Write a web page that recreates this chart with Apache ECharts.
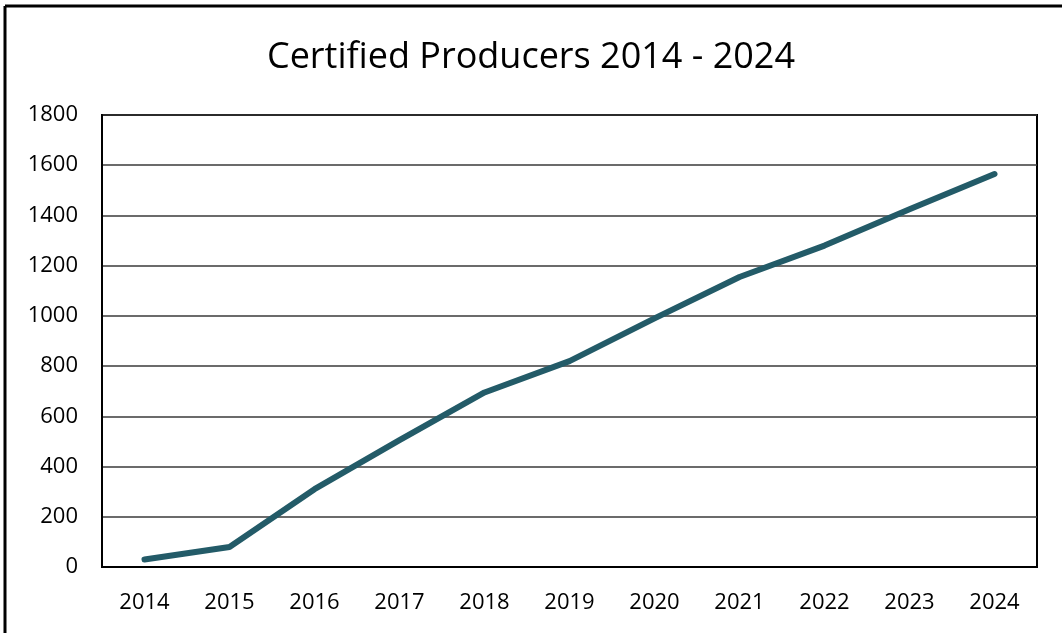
<!DOCTYPE html>
<html>
<head>
<meta charset="utf-8">
<title>Certified Producers 2014 - 2024</title>
<script src="https://cdn.jsdelivr.net/npm/echarts@6/dist/echarts.min.js"></script>
<style>
  html, body { margin: 0; padding: 0; background: #fff; }
  #chart { width: 1062px; height: 633px; }
</style>
</head>
<body>
<div id="chart"></div>
<script>
// Yearly count of certified producers
const years = ['2014', '2015', '2016', '2017', '2018', '2019', '2020', '2021', '2022', '2023', '2024'];
const producers = [30, 80, 310, 505, 695, 820, 990, 1155, 1280, 1425, 1565];
const yTicks = { min: 0, max: 1800, interval: 200 };

const chart = echarts.init(document.getElementById('chart'), null, { renderer: 'canvas' });
const font = '"Open Sans", "Liberation Sans", sans-serif';

chart.setOption({
  backgroundColor: '#fff',
  animation: false,
  title: {
    text: 'Certified Producers 2014 - 2024',
    left: 'center',
    top: 35,
    textStyle: { fontFamily: font, fontSize: 36, fontWeight: 'normal', color: '#000' }
  },
  graphic: [
    // frame along the top and left edges of the page
    { type: 'line', shape: { x1: 5, y1: 6, x2: 1062, y2: 6 }, style: { stroke: '#000', lineWidth: 3 } },
    { type: 'line', shape: { x1: 5, y1: 6, x2: 5, y2: 633 }, style: { stroke: '#000', lineWidth: 3 } }
  ],
  grid: {
    left: 102, right: 25, top: 115, bottom: 66,
    show: true, borderColor: '#000', borderWidth: 2, backgroundColor: 'transparent'
  },
  xAxis: {
    type: 'category',
    data: years,
    boundaryGap: true,
    axisLine: { show: true, lineStyle: { color: '#000', width: 2 } },
    axisTick: { show: false },
    axisLabel: { fontFamily: font, fontSize: 22, color: '#000', margin: 25 }
  },
  yAxis: {
    type: 'value',
    min: yTicks.min, max: yTicks.max, interval: yTicks.interval,
    axisLine: { show: true, lineStyle: { color: '#000', width: 2 } },
    axisTick: { show: false },
    axisLabel: { fontFamily: font, fontSize: 22, color: '#000', margin: 24, formatter: v => String(v) },
    splitLine: { show: true, lineStyle: { color: '#3a3a3a', width: 1.5 } }
  },
  series: [{
    type: 'line',
    data: producers,
    symbol: 'none',
    lineStyle: { color: '#235B68', width: 6, cap: 'round', join: 'round' }
  }]
});
</script>
</body>
</html>
